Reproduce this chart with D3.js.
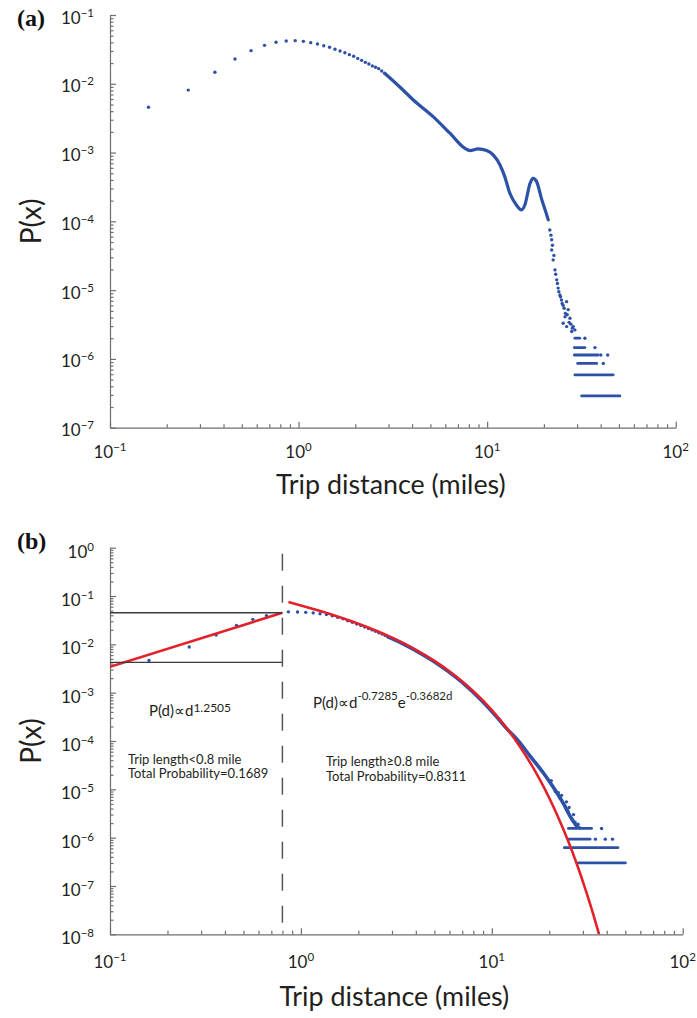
<!DOCTYPE html>
<html><head><meta charset="utf-8">
<script src="https://cdn.jsdelivr.net/npm/d3@7"></script>
<style>
body{margin:0;background:#fff}
svg{display:block}
text{font-family:Lato,"Noto Sans",sans-serif}
text.tag{font-family:"Liberation Serif","DejaVu Serif",serif;font-weight:bold}
</style>
</head><body>
<svg id="c" width="697" height="1018"></svg>
<script>
// ---------------- data ----------------
const xTickExps = [-1, 0, 1, 2];
const yTickExpsA = [-1, -2, -3, -4, -5, -6, -7];
const yTickExpsB = [0, -1, -2, -3, -4, -5, -6, -7, -8];

// panel (a): separate dots (0.1-mile bins)
const dotsA_d = [0.16,0.26,0.36,0.46,0.56,0.66,0.76,0.86,0.96,1.06,1.16,1.26,1.36,1.46,1.56,1.66,1.76,1.86,1.96,2.06,2.16,2.26,2.36,2.46,2.56,2.66,2.76,2.86];
const dotsA_p = [0.00455,0.0081,0.0147,0.0229,0.0303,0.0362,0.0401,0.0419,0.0424,0.0414,0.0396,0.0378,0.0358,0.0339,0.0317,0.0300,0.0283,0.0265,0.0251,0.0234,0.0219,0.0205,0.01936,0.0182,0.01738,0.0166,0.01535,0.01419];
// panel (a): dense part (dots merge into a line)
const lineA_d = [2.86,2.93,3.5,4.06,5.17,6.35,7.63,8.11,8.97,9.94,10.8,11.7,12.4,13.2,14.3,15.2,15.85,16.9,17.5,18.3,19.4,20.7,21.1];
const lineA_p = [0.0142,0.0134,0.0086,0.00582,0.00333,0.00191,0.00115,0.00107,0.00113,0.00107,0.00092,0.00066,0.000447,0.000256,0.000173,0.000147,0.000173,0.000358,0.000423,0.000378,0.000216,0.000124,0.000105];
// panel (a): scattered tail
const scatA_d = [21.5,21.8,22.0,22.2,22.0,22.6,22.4,22.9,23.1,23.4,23.6,23.8,24.0,24.3,24.5,24.8,25.0,25.3,26.4,25.6,26.9,26.0,26.6,25.9,27.5,27.2,25.3,26.4,27.8,28.6,28.3,29.2,28.1];
const scatA_p = [7.5e-5,6.3e-5,5.4e-5,4.5e-5,3.84e-5,3.2e-5,2.75e-5,1.97e-5,1.7e-5,1.41e-5,1.25e-5,1.07e-5,9.5e-6,8.5e-6,8.0e-6,7.2e-6,6.4e-6,6.0e-6,6.8e-6,5.45e-6,5.2e-6,4.6e-6,4.4e-6,4.1e-6,3.9e-6,3.4e-6,3.3e-6,2.95e-6,3.2e-6,2.95e-6,2.8e-6,2.64e-6,2.5e-6];
// panel (a): count-level rows (P, from, to)
const rowsA_p  = [2.0e-6,1.46e-6,1.14e-6,8.6e-7,5.85e-7,2.9e-7];
const rowsA_d0 = [29.2,29.0,29.0,30.2,29.2,31.7];
const rowsA_d1 = [31.0,33.0,38.8,38.1,46.6,50.6];
const rowDotsA_d = [33.0,37.3,40.1,43.6,41.3];
const rowDotsA_p = [2.0e-6,1.46e-6,1.14e-6,1.14e-6,8.6e-7];

// panel (b)
const dotsB_d = [0.16,0.26,0.36,0.46,0.56,0.66,0.76,0.86,0.96,1.06,1.16,1.26,1.36,1.46,1.56,1.66,1.76,1.86,1.96,2.06,2.16,2.26,2.36,2.46,2.56,2.66,2.76,2.86];
const dotsB_p = [0.00466,0.0088,0.0156,0.0247,0.0329,0.0391,0.0437,0.0470,0.0467,0.0459,0.0447,0.0431,0.0413,0.0390,0.0361,0.0339,0.0307,0.0285,0.0264,0.0245,0.0228,0.0213,0.0199,0.0186,0.0174,0.0163,0.0153,0.0143];
const lineB_d = [2.86,3,4,5,7,9,10.6,12,13.5,15.8,18.6,21,23.7,25.7,27.9];
const lineB_p = [0.0143,0.0132,0.0074,0.00436,0.00163,0.00064,0.000315,0.000178,0.00011,5.0e-5,2.2e-5,1.1e-5,5.1e-6,2.8e-6,1.7e-6];
const scatB_d = [20.5,21.5,22.3,22.8,23.2,24.2,24.6,25.0,25.4,26.3,26.8,27.3,28.3,28.8];
const scatB_p = [1.5e-5,9e-6,8.5e-6,6.5e-6,7.5e-6,4.5e-6,5.5e-6,3.6e-6,4.2e-6,2.4e-6,3.0e-6,2.1e-6,1.9e-6,1.6e-6];
const rowsB_p  = [1.55e-6,9.3e-7,6.2e-7,3.0e-7];
const rowsB_d0 = [25.2,25.2,24.0,28.4];
const rowsB_d1 = [33.3,32.7,45.8,50.1];
const rowDotsB_d = [37.6,34.9,39.3,42.9];
const rowDotsB_p = [1.55e-6,9.3e-7,9.3e-7,9.3e-7];

// fits (panel b)
const cutoff = 0.8;
const boxLines_p = [0.045, 0.00424];
const fitLeft_d = [0.1, 0.8];
const fitLeft_p = [0.00344, 0.045];
const fitRight_d = [0.86,1,1.25,1.5,2,2.5,3,4,5,6,7,8,10,12,14,16,18,20,22,25,28,30,33,36,37];
const fitRight_p = [0.0751,0.0639,0.0495,0.0395,0.02667,0.01886,0.01374,0.00771,0.004535,0.002748,0.0017,0.001067,4.34e-4,1.82e-4,7.8e-5,3.39e-5,1.49e-5,6.6e-6,2.94e-6,8.9e-7,2.71e-7,1.235e-7,3.82e-8,1.19e-8,8.06e-9];

// ---------------- drawing ----------------
const BLUE = "#2c51a6", RED = "#e3212b", AXIS = "#6e6e6e", TXT = "#231f20";
const svg = d3.select("#c");
const zip = (a, b) => a.map((v, i) => [v, b[i]]);

function supText(g, x, y, exp, anchor, fs, sfs, dy) {
  const t = g.append("text").attr("x", x).attr("y", y).attr("text-anchor", anchor)
    .attr("font-size", fs).attr("fill", TXT);
  t.append("tspan").text("10");
  t.append("tspan").attr("font-size", sfs).attr("dy", dy).text(exp < 0 ? "\u2212" + (-exp) : String(exp));
  return t;
}

function fitWidth(t, target) {
  const w = t.node().getComputedTextLength();
  const fs = parseFloat(t.attr("font-size"));
  t.attr("font-size", fs * target / w);
}

function panel(cfg) {
  const x = d3.scaleLog().domain([0.1, 100]).range(cfg.xr);
  const y = d3.scaleLog().domain(cfg.yd).range(cfg.yr);
  const g = svg.append("g");
  const clipId = "clip" + cfg.id;
  g.append("clipPath").attr("id", clipId).append("rect")
    .attr("x", cfg.xr[0]).attr("y", cfg.yr[1]).attr("width", cfg.xr[1] - cfg.xr[0] + 20)
    .attr("height", cfg.yr[0] - cfg.yr[1]);

  const isMaj = v => Math.abs(Math.log10(v) - Math.round(Math.log10(v))) < 1e-9;
  const allX = x.ticks(), allY = y.ticks();
  const majX = allX.filter(isMaj), minX = allX.filter(v => !isMaj(v));
  const majY = allY.filter(isMaj), minY = allY.filter(v => !isMaj(v));

  const ax = g.append("g").attr("class", "axes");
  ax.append("g").attr("transform", `translate(0,${cfg.yr[0]})`)
    .call(d3.axisBottom(x).tickValues(minX).tickSize(-3.5).tickSizeOuter(0).tickFormat(""));
  ax.append("g").attr("transform", `translate(0,${cfg.yr[0]})`)
    .call(d3.axisBottom(x).tickValues(majX).tickSize(-6).tickSizeOuter(0).tickFormat(""))
    .select(".domain").remove();
  ax.append("g").attr("transform", `translate(${cfg.xr[0]},0)`)
    .call(d3.axisLeft(y).tickValues(minY).tickSize(-3.5).tickSizeOuter(0).tickFormat(""));
  ax.append("g").attr("transform", `translate(${cfg.xr[0]},0)`)
    .call(d3.axisLeft(y).tickValues(majY).tickSize(-6).tickSizeOuter(0).tickFormat(""))
    .select(".domain").remove();
  ax.selectAll("path,line").attr("stroke", AXIS).attr("stroke-width", 1.2);

  // tick labels
  xTickExps.forEach(e => supText(g, x(Math.pow(10, e)), cfg.yr[0] + cfg.xlabOff, e, "middle", 17, 11.5, -7));
  cfg.yexps.forEach(e => supText(g, 94, y(Math.pow(10, e)) + cfg.ylabOff, e, "end", 17, 11.5, -7));

  // titles
  const tx = g.append("text").attr("x", (cfg.xr[0] + cfg.xr[1]) / 2 - 2).attr("y", cfg.titleY)
    .attr("text-anchor", "middle").attr("font-size", 25).attr("fill", TXT).text("Trip distance (miles)");
  fitWidth(tx, 230);
  g.append("text").attr("transform", `translate(41,${(cfg.yr[0] + cfg.yr[1]) / 2}) rotate(-90)`)
    .attr("text-anchor", "middle").attr("font-size", 28).attr("fill", TXT).text("P(x)");
  g.append("text").attr("class", "tag").attr("x", 17).attr("y", cfg.yr[1] + cfg.tagOff)
    .attr("font-size", 24).attr("fill", "#111").text(cfg.tag);

  const plot = g.append("g").attr("clip-path", `url(#${clipId})`);
  return { x, y, g, plot };
}

function drawData(p, dots, line, scat, rows, rowDots, lw) {
  const { x, y, plot } = p;
  plot.append("path").datum(line).attr("fill", "none").attr("stroke", BLUE).attr("stroke-width", lw)
    .attr("stroke-linecap", "round").attr("stroke-linejoin", "round")
    .attr("d", d3.line().x(d => x(d[0])).y(d => y(d[1])).curve(d3.curveMonotoneX));
  plot.selectAll(null).data(dots.concat(scat, rowDots)).join("circle")
    .attr("cx", d => x(d[0])).attr("cy", d => y(d[1])).attr("r", 1.7).attr("fill", BLUE);
  plot.selectAll(null).data(rows).join("line")
    .attr("x1", d => x(d[1])).attr("x2", d => x(d[2])).attr("y1", d => y(d[0])).attr("y2", d => y(d[0]))
    .attr("stroke", BLUE).attr("stroke-width", 2.8).attr("stroke-linecap", "round");
}

// panel (a)
const pa = panel({ id: "a", xr: [110, 675.7], yd: [1e-7, 1e-1], yr: [427.7, 15], yexps: yTickExpsA,
  xlabOff: 30, ylabOff: 8.5, titleY: 494, tag: "(a)", tagOff: 11 });
drawData(pa, zip(dotsA_d, dotsA_p), zip(lineA_d, lineA_p), zip(scatA_d, scatA_p),
  rowsA_p.map((v, i) => [v, rowsA_d0[i], rowsA_d1[i]]), zip(rowDotsA_d, rowDotsA_p), 3.2);

// panel (b)
const pb = panel({ id: "b", xr: [110, 682.7], yd: [1e-8, 1], yr: [934.3, 547.7], yexps: yTickExpsB,
  xlabOff: 33.7, ylabOff: 10, titleY: 1006, tag: "(b)", tagOff: 1 });
drawData(pb, zip(dotsB_d, dotsB_p), zip(lineB_d, lineB_p), zip(scatB_d, scatB_p),
  rowsB_p.map((v, i) => [v, rowsB_d0[i], rowsB_d1[i]]), zip(rowDotsB_d, rowDotsB_p), 3.6);

{
  const { x, y, g, plot } = pb;
  // box lines
  g.selectAll(null).data(boxLines_p).join("line")
    .attr("x1", x(0.1)).attr("x2", x(cutoff)).attr("y1", d => y(d)).attr("y2", d => y(d))
    .attr("stroke", "#3a3a3a").attr("stroke-width", 1.4);
  // dashed cutoff
  g.append("line").attr("x1", x(cutoff)).attr("x2", x(cutoff)).attr("y1", y(1) + 6).attr("y2", y(1e-8))
    .attr("stroke", "#555").attr("stroke-width", 1.5).attr("stroke-dasharray", "17,15");
  // fits
  const ln = d3.line().x(d => x(d[0])).y(d => y(d[1]));
  plot.append("path").datum(zip(fitLeft_d, fitLeft_p)).attr("fill", "none").attr("stroke", RED)
    .attr("stroke-width", 2.6).attr("d", ln);
  plot.append("path").datum(zip(fitRight_d, fitRight_p)).attr("fill", "none").attr("stroke", RED)
    .attr("stroke-width", 2.6).attr("d", ln.curve(d3.curveMonotoneX));

  // annotations
  const t1 = g.append("text").attr("x", 149).attr("y", 716).attr("font-size", 15).attr("fill", TXT);
  t1.append("tspan").text("P(d)\u221Dd");
  t1.append("tspan").attr("font-size", 12).attr("dy", -4).text("1.2505");

  const t2 = g.append("text").attr("x", 313).attr("y", 708).attr("font-size", 15).attr("fill", TXT);
  t2.append("tspan").text("P(d)\u221Dd");
  t2.append("tspan").attr("font-size", 11.5).attr("dy", -8).text("-0.7285");
  t2.append("tspan").attr("dy", 8).text("e");
  t2.append("tspan").attr("font-size", 11.5).attr("dy", -8).text("-0.3682d");

  const small = (tx, ty, s) => g.append("text").attr("x", tx).attr("y", ty).attr("font-size", 13)
    .attr("fill", TXT).text(s);
  small(128, 764, "Trip length<0.8 mile");
  small(128, 778, "Total Probability=0.1689");
  small(326, 766, "Trip length\u22650.8 mile");
  small(326, 781, "Total Probability=0.8311");
}
</script>
</body></html>
